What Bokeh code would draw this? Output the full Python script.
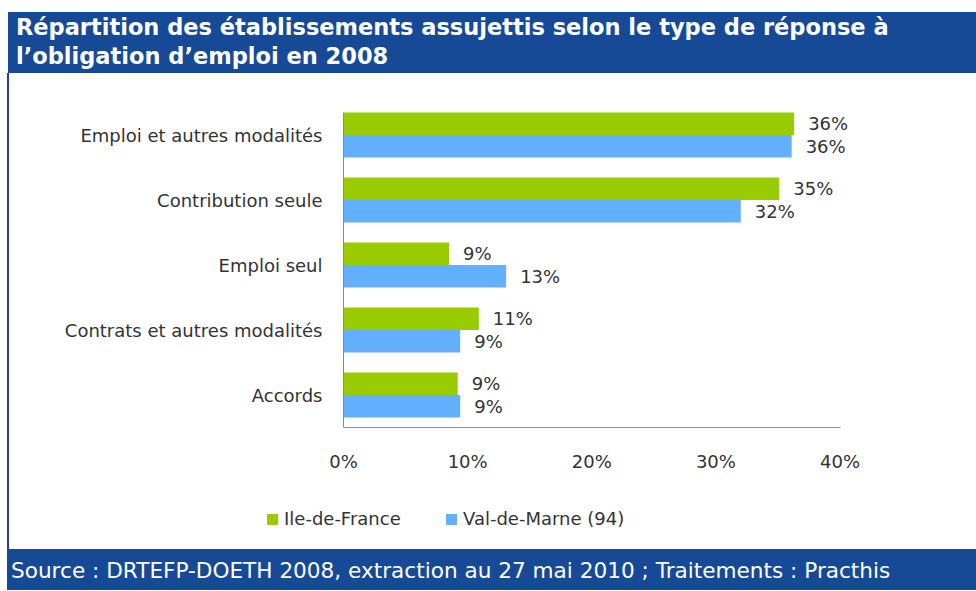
from bokeh.plotting import figure
from bokeh.models import (FactorRange, Range1d, ColumnDataSource, FixedTicker,
                          PrintfTickFormatter, Div)
from bokeh.layouts import column, row
from bokeh.transform import dodge
from bokeh.core.properties import value
from bokeh.embed import file_html
from bokeh.resources import INLINE

# ---- data ----
categories = ["Emploi et autres modalités", "Contribution seule", "Emploi seul",
              "Contrats et autres modalités", "Accords"]
ile_de_france = [36.3, 35.1, 8.5, 10.9, 9.2]
val_de_marne = [36.1, 32.0, 13.1, 9.4, 9.4]
ile_labels = ["36%", "35%", "9%", "11%", "9%"]
vdm_labels = ["36%", "32%", "13%", "9%", "9%"]
x_ticks = [0, 10, 20, 30, 40]
series_names = ["Ile-de-France", "Val-de-Marne (94)"]
title_text = "Répartition des établissements assujettis selon le type de réponse à<br>l’obligation d’emploi en 2008"
source_text = "Source : DRTEFP-DOETH 2008, extraction au 27 mai 2010 ; Traitements : Practhis"

GREEN = "#99CC00"
BLUE = "#63B0FF"
NAVY = "#174A96"
TXT = "#333333"
FONT = "DejaVu Sans"

src = ColumnDataSource(dict(cat=categories, ile=ile_de_france, vdm=val_de_marne,
                            ile_lbl=ile_labels, vdm_lbl=vdm_labels))

# ---- main chart ----
p = figure(width=967, height=417,
           y_range=FactorRange(factors=categories[::-1]),
           x_range=Range1d(0, 41),
           output_backend="svg", toolbar_location=None,
           min_border_left=334, min_border_right=124,
           min_border_top=29, min_border_bottom=63, margin=0)
p.background_fill_color = "white"
p.border_fill_color = "white"
p.outline_line_color = None
p.grid.visible = False

off = 0.1725
bh = 0.345
p.hbar(y=dodge("cat", off, range=p.y_range), left=0, right="ile", height=bh,
       fill_color=GREEN, line_color=None, source=src)
p.hbar(y=dodge("cat", -off, range=p.y_range), left=0, right="vdm", height=bh,
       fill_color=BLUE, line_color=None, source=src)

p.text(x="ile", y=dodge("cat", off, range=p.y_range), text="ile_lbl", source=src,
       x_offset=14, text_baseline="middle", text_align="left",
       text_font=value(FONT), text_font_size="18px", text_color=TXT)
p.text(x="vdm", y=dodge("cat", -off, range=p.y_range), text="vdm_lbl", source=src,
       x_offset=14, text_baseline="middle", text_align="left",
       text_font=value(FONT), text_font_size="18px", text_color=TXT)

p.xaxis.ticker = FixedTicker(ticks=x_ticks)
p.xaxis.formatter = PrintfTickFormatter(format="%d%%")
p.xaxis.bounds = (0, 40)
p.yaxis.bounds = (0, 4.85)
for ax in (p.xaxis, p.yaxis):
    ax.major_tick_line_color = None
    ax.minor_tick_line_color = None
    ax.axis_line_color = "#8C8C8C"
    ax.major_label_text_font = FONT
    ax.major_label_text_font_size = "18px"
    ax.major_label_text_color = TXT
p.xaxis.major_label_standoff = 17
p.yaxis.major_label_standoff = 15

# ---- legend strip (HTML, below the plot) ----
legend_html = (
    f'<div style="position:relative; width:967px; height:59px; font-family:\'DejaVu Sans\', sans-serif; '
    f'font-size:18px; color:{TXT}; white-space:nowrap;">'
    f'<span style="position:absolute; left:258px; top:24px; width:11px; height:11px; background:{GREEN};"></span>'
    f'<span style="position:absolute; left:275px; top:18px; line-height:22px;">{series_names[0]}</span>'
    f'<span style="position:absolute; left:437px; top:24px; width:11px; height:11px; background:{BLUE};"></span>'
    f'<span style="position:absolute; left:454px; top:18px; line-height:22px;">{series_names[1]}</span>'
    f'</div>'
)
legend_div = Div(text=legend_html, width=967, height=59, margin=0,
                 styles={"background-color": "white"})

# ---- frame pieces ----
title = Div(text=f'<div style="font-family: \'DejaVu Sans\', sans-serif; font-weight: bold; '
                 f'font-size: 22.5px; line-height: 28.5px; color: white; padding: 1px 0 0 8px; white-space: nowrap;">{title_text}</div>',
            width=968, height=61, margin=(12, 0, 0, 8),
            styles={"background-color": NAVY})
left_line = Div(text="", width=2, height=476, margin=0,
                styles={"background-color": "#27408B"})
source = Div(text=f'<div style="font-family: \'DejaVu Sans\', sans-serif; '
                  f'font-size: 21.6px; line-height: 30px; color: white; padding: 7px 0 0 4px; white-space: nowrap;">{source_text}</div>',
             width=969, height=41, margin=(0, 0, 0, 7),
             styles={"background-color": NAVY})

chart_row = row(left_line, column(p, legend_div, spacing=0, margin=0), spacing=0, margin=(0, 0, 0, 7))
layout = column(title, chart_row, source, spacing=0, margin=0)

open("out.html", "w").write(file_html(layout, INLINE))
